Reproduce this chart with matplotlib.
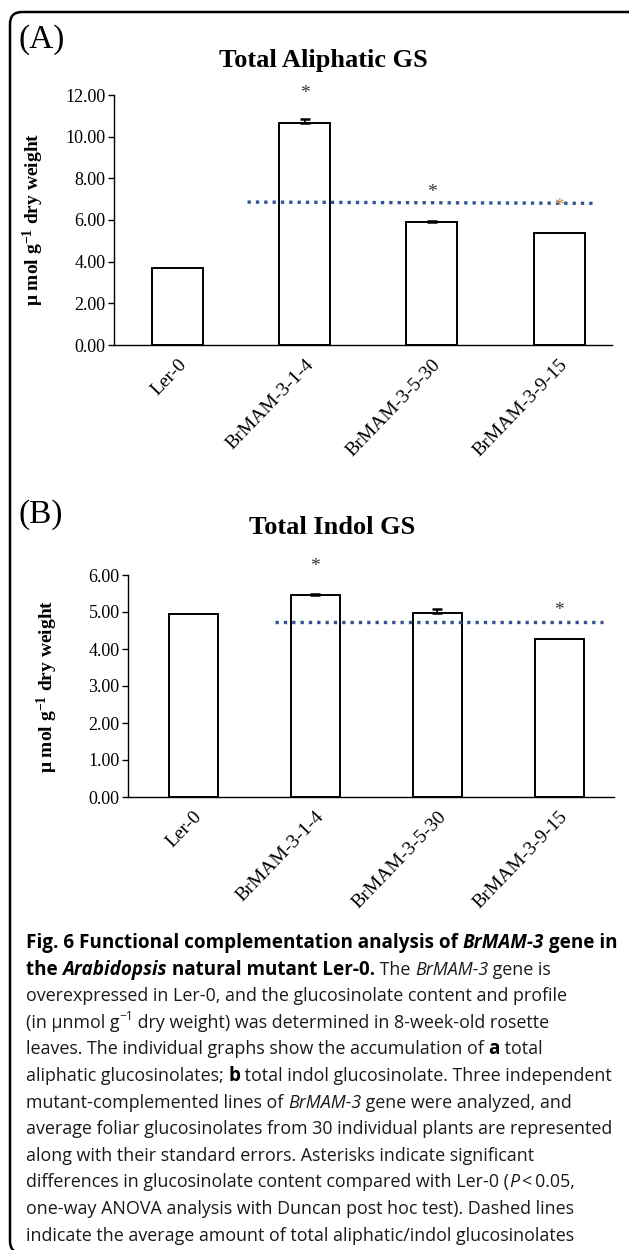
import matplotlib.pyplot as plt
from matplotlib.patches import FancyBboxPatch
from matplotlib.ticker import FormatStrFormatter

# data
lines = ["Ler-0", "BrMAM-3-1-4", "BrMAM-3-5-30", "BrMAM-3-9-15"]

aliphatic = [3.70, 10.66, 5.92, 5.37]
aliphatic_err = [0.0, 0.18, 0.04, 0.0]
aliphatic_avg_x = [0.55, 3.30]
aliphatic_avg_y = [6.86, 6.80]
aliphatic_star = [None, 12.05, 7.30, 6.67]

indol = [4.95, 5.47, 4.96, 4.28]
indol_err = [0.0, 0.03, 0.12, 0.0]
indol_avg_x = [0.67, 3.36]
indol_avg_y = [4.74, 4.74]
indol_star = [None, 6.23, None, 5.04]

W, H = 629, 1250
SERIF = "Liberation Serif"
CAPTION_FONT = "Open Sans"
DOT_BLUE = "#2F5597"

plt.rcParams["mathtext.fontset"] = "custom"
plt.rcParams["mathtext.bf"] = "Liberation Serif:bold"
plt.rcParams["mathtext.rm"] = "Liberation Serif:bold"
plt.rcParams["mathtext.default"] = "bf"


def px_box(left, top, right, bottom):
    # pixel box -> figure fraction rect
    return [left / W, 1 - bottom / H, (right - left) / W, (bottom - top) / H]


def draw_panel(fig, rect, values, errs, avg_x, avg_y, stars, ymax, ystep,
               xlim, star_colors):
    ax = fig.add_axes(rect)
    x = list(range(len(values)))
    ax.bar(x, values, width=0.4, color="white", edgecolor="black",
           linewidth=1.4, zorder=2)
    # only draw the error bars that are actually visible
    ex = [i for i in x if errs[i] > 0]
    ax.errorbar(ex, [values[i] for i in ex],
                yerr=[[0] * len(ex), [errs[i] for i in ex]], fmt="none",
                ecolor="black", elinewidth=1.2, capsize=3.5, capthick=1.8,
                zorder=3)
    ax.plot(avg_x, avg_y, color=DOT_BLUE, linewidth=2.4,
            linestyle=(0, (1, 1.5)), dash_capstyle="butt", zorder=4)
    for i, s in enumerate(stars):
        if s is None:
            continue
        ax.text(i, s, "*", ha="center", va="center", fontsize=14,
                family=SERIF, color=star_colors[i], zorder=5)

    ax.set_xlim(*xlim)
    ax.set_ylim(0, ymax)
    yt = [k * ystep for k in range(int(round(ymax / ystep)) + 1)]
    ax.set_yticks(yt)
    ax.yaxis.set_major_formatter(FormatStrFormatter("%.2f"))
    ax.set_xticks(x)
    ax.set_xticklabels(lines, rotation=46, ha="right",
                       rotation_mode="anchor", family=SERIF, fontsize=14)
    ax.tick_params(axis="x", length=0, pad=8)
    ax.tick_params(axis="y", direction="out", length=4, width=1.0,
                   labelsize=13, pad=2)
    for lab in ax.get_yticklabels():
        lab.set_family(SERIF)
    for side in ("top", "right"):
        ax.spines[side].set_visible(False)
    for side in ("left", "bottom"):
        ax.spines[side].set_linewidth(1.0)
    return ax


fig = plt.figure(figsize=(W / 100, H / 100), dpi=100)

# rounded frame, clipped on the right and at the bottom
frame = FancyBboxPatch((0.10, -0.03), 6.32, 12.41,
                       boxstyle="round,pad=0,rounding_size=0.12",
                       transform=fig.dpi_scale_trans, fill=False,
                       edgecolor="black", linewidth=1.8)
fig.patches.append(frame)

# panel A
draw_panel(fig, px_box(114, 95, 612, 345), aliphatic, aliphatic_err,
           aliphatic_avg_x, aliphatic_avg_y, aliphatic_star, 12, 2,
           (-0.5, 3.416), ["k", "#333333", "#333333", "#C08A40"])
fig.text(18 / W, 1 - 40 / H, "(A)", family=SERIF, fontsize=24,
         ha="left", va="center")
fig.text(323 / W, 1 - 60 / H, "Total Aliphatic GS", family=SERIF,
         fontsize=19, fontweight="bold", ha="center", va="center")
fig.text(33 / W, 1 - 219 / H, r"μ mol g$^{-1}$ dry weight", family=SERIF,
         fontsize=14, fontweight="bold", rotation=90,
         ha="center", va="center")

# panel B
draw_panel(fig, px_box(128, 575, 614, 797), indol, indol_err,
           indol_avg_x, indol_avg_y, indol_star, 6, 1,
           (-0.537, 3.45), ["k", "#333333", "#333333", "#333333"])
fig.text(18 / W, 1 - 515 / H, "(B)", family=SERIF, fontsize=24,
         ha="left", va="center")
fig.text(332 / W, 1 - 528 / H, "Total Indol GS", family=SERIF,
         fontsize=19, fontweight="bold", ha="center", va="center")
fig.text(47 / W, 1 - 686 / H, r"μ mol g$^{-1}$ dry weight", family=SERIF,
         fontsize=14, fontweight="bold", rotation=90,
         ha="center", va="center")

# caption, drawn piece by piece so bold / italic runs line up
R, B, I, BI, SUP = "r", "b", "i", "bi", "sup"
caption = [
    [("Fig. 6 Functional complementation analysis of ", B),
     ("BrMAM-3", BI), (" gene in", B)],
    [("the ", B), ("Arabidopsis", BI), (" natural mutant Ler-0.", B),
     (" The ", R), ("BrMAM-3", I), (" gene is", R)],
    [("overexpressed in Ler-0, and the glucosinolate content and profile", R)],
    [("(in μnmol g", R), ("\u22121", SUP),
     (" dry weight) was determined in 8-week-old rosette", R)],
    [("leaves. The individual graphs show the accumulation of ", R),
     ("a", B), (" total", R)],
    [("aliphatic glucosinolates; ", R), ("b", B),
     (" total indol glucosinolate. Three independent", R)],
    [("mutant-complemented lines of ", R), ("BrMAM-3", I),
     (" gene were analyzed, and", R)],
    [("average foliar glucosinolates from 30 individual plants are represented", R)],
    [("along with their standard errors. Asterisks indicate significant", R)],
    [("differences in glucosinolate content compared with Ler-0 (", R),
     ("P", I), ("\u2009<\u20090.05,", R)],
    [("one-way ANOVA analysis with Duncan post hoc test). Dashed lines", R)],
    [("indicate the average amount of total aliphatic/indol glucosinolates", R)],
]

CAP_SIZE = 12.9
BOLD_SIZE = 13.6
first_baseline = 948
line_step = 26.6
renderer = fig.canvas.get_renderer()
for n, segs in enumerate(caption):
    x = 26.0
    base = first_baseline + n * line_step
    for text, style in segs:
        kw = dict(family=CAPTION_FONT, fontsize=CAP_SIZE, color="#1a1a1a",
                  ha="left", va="baseline")
        y = base
        if style in (B, BI):
            kw["fontweight"] = "bold"
            kw["fontsize"] = BOLD_SIZE
            kw["color"] = "black"
        if style in (I, BI):
            kw["fontstyle"] = "italic"
        if style == SUP:
            kw["fontsize"] = CAP_SIZE * 0.68
            y = base - 8
        t = fig.text(x / W, 1 - y / H, text, **kw)
        x = t.get_window_extent(renderer).x1

fig.savefig("out.png", dpi=100)
